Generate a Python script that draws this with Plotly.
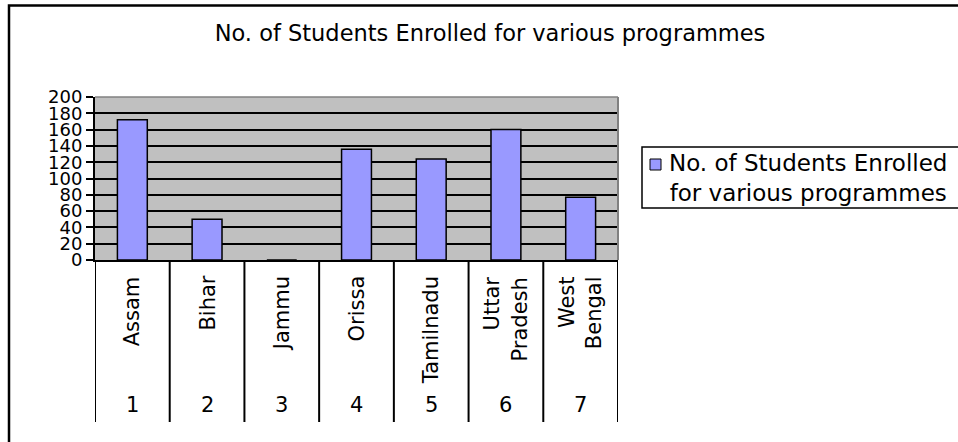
import plotly.graph_objects as go

# ---- data ----
categories = ["Assam", "Bihar", "Jammu", "Orissa", "Tamilnadu", "Uttar Pradesh", "West Bengal"]
tick_labels = ["Assam", "Bihar", "Jammu", "Orissa", "Tamilnadu", "Uttar<br>Pradesh", "West<br>Bengal"]
group_numbers = ["1", "2", "3", "4", "5", "6", "7"]
students = [172, 50, 0, 136, 124, 160, 77]
series_name = "No. of Students Enrolled for various programmes"
title_text = "No. of Students Enrolled for various programmes"
legend_text = "No. of Students Enrolled<br>for various programmes"
y_ticks = [0, 20, 40, 60, 80, 100, 120, 140, 160, 180, 200]

FONT = "DejaVu Sans"
W, H = 958, 442
# plot area in page pixels
PX0, PX1, PY0, PY1 = 95, 618, 97, 260
L, R, T, B = PX0, W - PX1, PY0, H - PY1
PW, PH = W - L - R, H - T - B


def px_x(x):
    return (x - L) / PW


def px_y(y):
    return (H - B - y) / PH


fig = go.Figure()
fig.add_trace(go.Bar(
    x=categories, y=students, name=series_name,
    marker=dict(color="#9999FF", line=dict(color="black", width=1.5)),
    showlegend=False,
))

shapes = []
# outer chart border (cut off at right / bottom)
shapes.append(dict(type="rect", xref="paper", yref="paper",
                   x0=px_x(9), x1=px_x(975), y0=px_y(460), y1=px_y(5.5),
                   line=dict(color="black", width=2.5), layer="below"))
# top & right plot-area edges in gray
shapes.append(dict(type="line", xref="paper", yref="paper", x0=0, x1=1, y0=1, y1=1,
                   line=dict(color="#808080", width=1.5), layer="above"))
shapes.append(dict(type="line", xref="paper", yref="paper", x0=1, x1=1, y0=0, y1=1,
                   line=dict(color="#808080", width=2), layer="above"))
# category dividers below axis
for i in range(len(categories) + 1):
    shapes.append(dict(type="line", xref="x", yref="paper", x0=i - 0.5, x1=i - 0.5,
                       y0=0, y1=px_y(422), line=dict(color="black", width=2)))
# legend box and swatch
shapes.append(dict(type="rect", xref="paper", yref="paper",
                   x0=px_x(642), x1=px_x(975), y0=px_y(208), y1=px_y(147),
                   line=dict(color="black", width=1.5), fillcolor="white"))
shapes.append(dict(type="rect", xref="paper", yref="paper",
                   x0=px_x(650), x1=px_x(661), y0=px_y(170), y1=px_y(159),
                   line=dict(color="black", width=1), fillcolor="#9999FF"))

annotations = []
for cat, lab, num in zip(categories, tick_labels, group_numbers):
    annotations.append(dict(x=cat, xref="x", y=px_y(274), yref="paper", text=lab,
                            textangle=-90, xanchor="center", yanchor="top", align="right",
                            showarrow=False, font=dict(family=FONT, size=21, color="black")))
    annotations.append(dict(x=cat, xref="x", y=px_y(405), yref="paper", text=num,
                            xanchor="center", yanchor="middle", showarrow=False,
                            font=dict(family=FONT, size=21, color="black")))
annotations.append(dict(x=px_x(808), xref="paper", y=px_y(178), yref="paper",
                        text=legend_text,
                        align="center", xanchor="center", yanchor="middle", showarrow=False,
                        font=dict(family=FONT, size=23, color="black")))

fig.update_layout(
    width=W, height=H,
    margin=dict(l=L, r=R, t=T, b=B),
    paper_bgcolor="white", plot_bgcolor="#C0C0C0",
    title=dict(text=title_text, x=490 / W, xanchor="center", xref="container",
               y=1 - 33 / H, yanchor="middle", yref="container",
               font=dict(family=FONT, size=22.5, color="black")),
    bargap=0.6,
    showlegend=False,
    shapes=shapes,
    annotations=annotations,
    font=dict(family=FONT, color="black"),
)
fig.update_xaxes(type="category", showticklabels=False, showgrid=False,
                 showline=True, linecolor="black", linewidth=2, ticks="",
                 range=[-0.5, len(categories) - 0.5], fixedrange=True)
fig.update_yaxes(range=[0, 200], tickvals=y_ticks, showgrid=True, gridcolor="black",
                 gridwidth=1.5, showline=True, linecolor="black", linewidth=2,
                 ticks="outside", ticklen=7, tickwidth=1.5, tickcolor="black",
                 tickfont=dict(family=FONT, size=18, color="black"), zeroline=False,
                 fixedrange=True)

fig.write_html("out.html", config={"displayModeBar": False},
               post_script="document.body.style.margin='0';document.body.style.overflow='hidden';")
